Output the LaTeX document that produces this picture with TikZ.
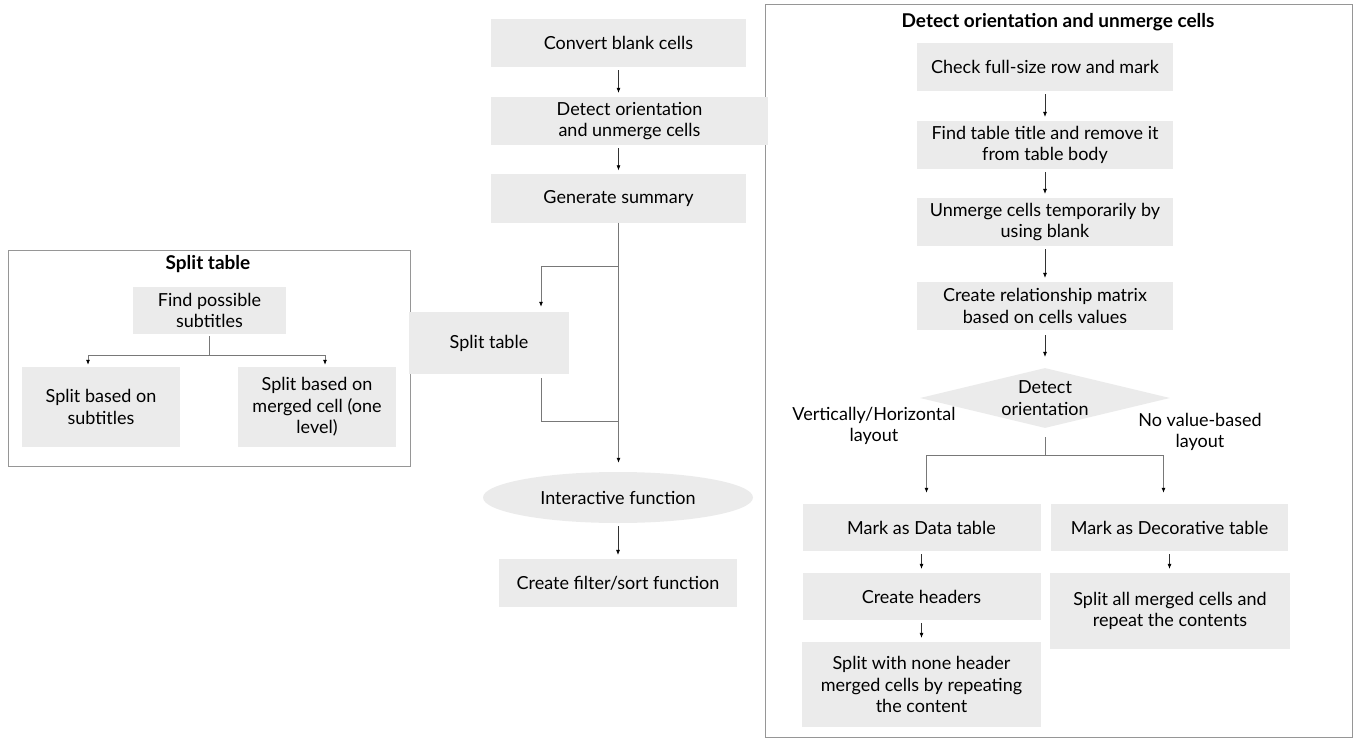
\documentclass[tikz,border=0pt]{standalone}
\usepackage{fontspec}
\setmainfont{Lato}
\usetikzlibrary{shapes.geometric,arrows.meta}
\definecolor{boxgray}{RGB}{235,235,235}
\definecolor{linegray}{RGB}{120,120,120}
\definecolor{arrgray}{RGB}{50,50,50}
\definecolor{framegray}{RGB}{150,150,150}

\begin{document}
\begin{tikzpicture}[x=1pt, y=-1pt,
		font=\fontsize{18}{21.5}\selectfont,
		box/.style={fill=boxgray, align=center, inner sep=0pt, minimum height=48pt},
		title/.style={font=\fontsize{19}{22}\selectfont\bfseries},
		tip/.style={-{Latex[length=5pt,width=4pt,black]}},
		line/.style={linegray, line width=0.8pt},
		arr/.style={arrgray, line width=0.6pt, tip, shorten >=4pt, shorten <=3pt},
		frame/.style={framegray, line width=1pt}]
		\useasboundingbox (0,0) rectangle (1354,738);

		\draw[frame] (8,250) rectangle (410,466);
		\draw[frame] (765,5) rectangle (1352,737);

		% main column
		\node[box, minimum width=255pt] (blank) at (618.5,43) {Convert blank cells};
		\node[box, minimum width=277pt] (orient) at (629.5,121) {Detect orientation\\and unmerge cells};
		\node[box, minimum width=255pt] (summary) at (618.5,198.5) {Generate summary};
		\node[box, minimum width=160pt, minimum height=62pt] (split) at (489,343) {Split table};
		\node[ellipse, fill=boxgray, minimum width=270pt, minimum height=51pt, inner sep=0pt] (interact) at (618,497.5) {Interactive function};
		\node[box, minimum width=238pt] (filter) at (618,583) {Create filter/sort function};

		\draw[arr] (blank.south) -- (blank.south |- orient.north);
		\draw[arr] (summary.north |- orient.south) -- (summary.north);
		\draw[arr] (interact.south) -- (filter.north);

		\coordinate (j1) at (619,266);
		\coordinate (j2) at (619,421);
		\draw[line, tip, shorten >=9pt] (summary.south) -- (summary.south |- interact.north);
		\draw[line, tip, shorten >=5pt] (summary.south |- j1) -| ([xshift=52pt]split.north);
		\draw[line, shorten <=4pt] ([xshift=52pt]split.south) |- (summary.south |- j2);

		% split table box
		\node[title] (splittitle) at (208,264) {Split table};
		\node[box, minimum width=153pt, minimum height=47pt] (subfind) at (209.5,310.5) {Find possible\\subtitles};
		\node[box, minimum width=158pt, minimum height=80pt] (bysub) at (101,407) {Split based on\\subtitles};
		\node[box, minimum width=158pt, minimum height=80pt] (bymerge) at (317,407) {Split based on\\merged cell (one\\level)};

		\coordinate (j3) at (207,355);
		\draw[line, shorten <=2pt] (subfind.south) -- (subfind.south |- j3);
		\draw[line, tip, shorten >=2pt] (subfind.south |- j3) -| ([xshift=-13pt]bysub.north);
		\draw[line, tip, shorten >=2pt] (subfind.south |- j3) -| ([xshift=8pt]bymerge.north);

		% detect orientation box
		\node[title] (orienttitle) at (1058,22) {Detect orientation and unmerge cells};
		\node[box, minimum width=256pt] (fullrow) at (1045,67) {Check full-size row and mark};
		\node[box, minimum width=256pt] (findtitle) at (1045,145) {Find table title and remove it\\from table body};
		\node[box, minimum width=256pt] (unmerge) at (1045,222) {Unmerge cells temporarily by\\using blank};
		\node[box, minimum width=256pt] (relmatrix) at (1045,306) {Create relationship matrix\\based on cells values};
		\node[diamond, fill=boxgray, align=center, aspect=4.15, inner sep=0pt, minimum width=250pt, minimum height=60pt] (detect) at (1045,398) {Detect\\orientation};
		\node[align=center] (vhlabel) at (874,426) {Vertically/Horizontal\\layout};
		\node[align=center] (novalue) at (1200,432) {No value-based\\layout};
		\node[box, minimum width=238pt, minimum height=47pt] (datatab) at (921.5,527.5) {Mark as Data table};
		\node[box, minimum width=237pt, minimum height=47pt] (decotab) at (1169.5,527.5) {Mark as Decorative table};
		\node[box, minimum width=238pt, minimum height=47pt] (headers) at (921.5,596.5) {Create headers};
		\node[box, minimum width=239pt, minimum height=85pt] (nonehead) at (921.5,684.5) {Split with none header\\merged cells by repeating\\the content};
		\node[box, minimum width=240pt, minimum height=76pt] (splitall) at (1170,611) {Split all merged cells and\\repeat the contents};

		\draw[arr] (fullrow) -- (findtitle);
		\draw[arr] (findtitle) -- (unmerge);
		\draw[arr] (unmerge) -- (relmatrix);
		\draw[arr, shorten >=11pt, shorten <=5pt] (relmatrix) -- (detect);
		\draw[arr] (datatab) -- (headers);
		\draw[arr] (headers) -- (nonehead);
		\draw[arr] (decotab) -- (decotab |- splitall.north);

		\coordinate (j4) at (1046,455);
		\draw[line, shorten <=9pt] (detect.south) -- (detect.south |- j4);
		\draw[line, tip, shorten >=11pt] (detect.south |- j4) -| ([xshift=5pt]datatab.north);
		\draw[line, tip, shorten >=11pt] (detect.south |- j4) -| ([xshift=-6pt]decotab.north);
\end{tikzpicture}
\end{document}
